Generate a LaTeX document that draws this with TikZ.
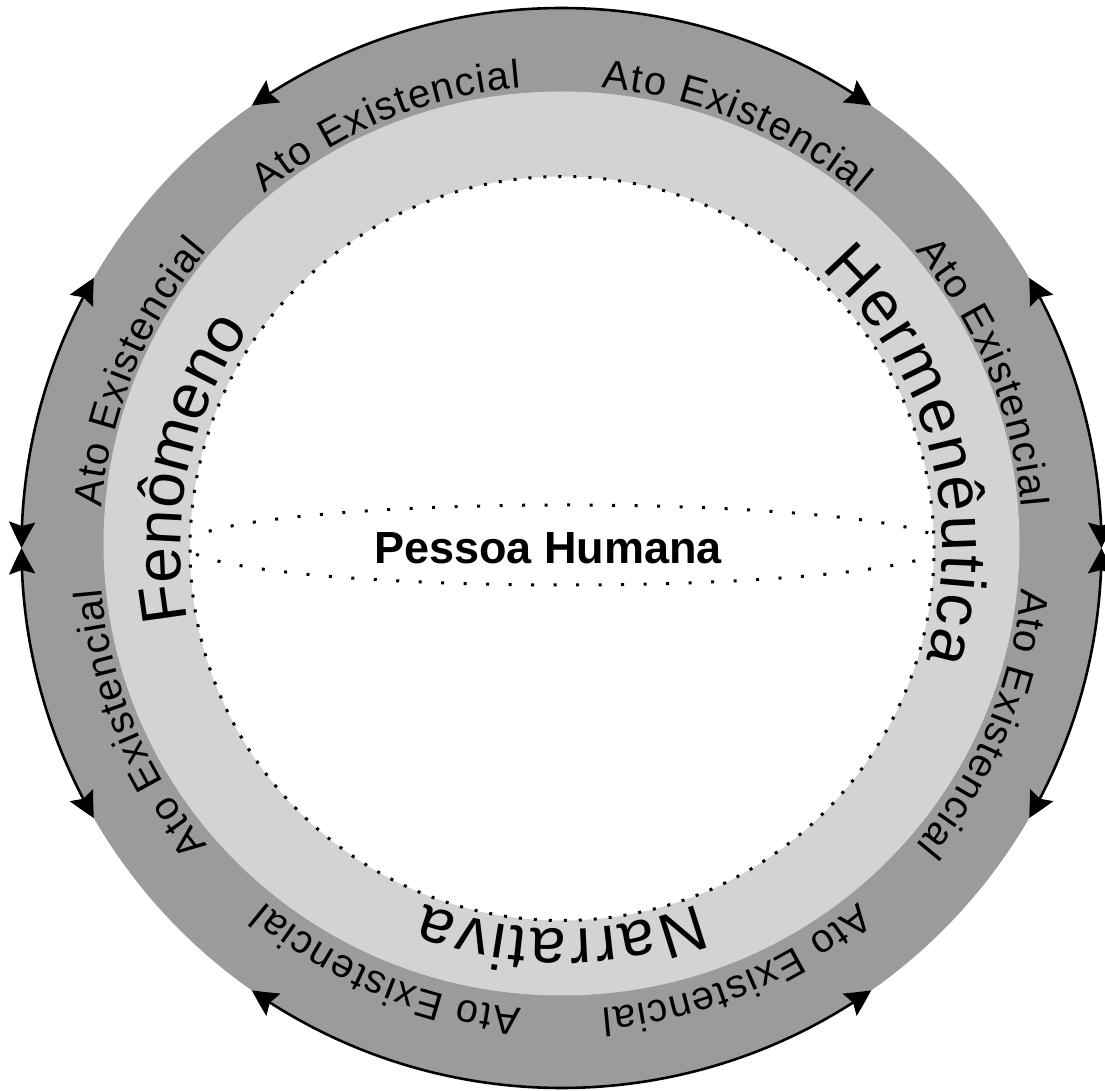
\documentclass[tikz,border=0pt]{standalone}
\usepackage{fontspec}
\setmainfont{Liberation Sans}
\usetikzlibrary{decorations.text,arrows.meta,bending}
\definecolor{ringdark}{RGB}{155,155,155}
\definecolor{ringlight}{RGB}{211,211,211}
\begin{document}
\begin{tikzpicture}[x=1pt,y=1pt,
  arcarrow/.style={line width=2.6pt,
    {Stealth[length=26pt,width=26pt,inset=4pt,bend]}-{Stealth[length=26pt,width=26pt,inset=4pt,bend]}},
  dotline/.style={line width=3pt, dash pattern=on 3pt off 12pt},
  dotellipse/.style={line width=3pt, dash pattern=on 3pt off 19.5pt},
  ringtext/.style={decorate, decoration={text along path, text={|\fontsize{64}{64}\selectfont|#1}, text align={fit to path}}},
  atotext/.style={decorate, decoration={text along path, text={|\fontsize{40}{40}\selectfont|Ato Existencial}, text align={fit to path}}}
]
\useasboundingbox (0,0) rectangle (1105,1090);
\coordinate (O) at (561.5,542);
% rings
\fill[ringdark] (O) circle[radius=540];
\fill[ringlight] (561.5,546.5) ellipse[x radius=458, y radius=452];
\fill[white] (562,541.5) circle[radius=372];
\draw[dotline] (562,541.5) circle[radius=372];
\begin{scope}
  \clip (562,541.5) circle[radius=368];
  \draw[dotellipse] (566,545) ellipse[x radius=380, y radius=40];
\end{scope}
\node[font=\bfseries\fontsize{45}{45}\selectfont, anchor=base, inner sep=0pt] (pessoa) at (548,526) {Pessoa Humana};
% arrows on outer ring
\foreach \a/\b in {55/125,150/180,180/210,235/305,330/360,0/30}
  \draw[arcarrow, shift={(O)}] (\a:540) arc[start angle=\a, end angle=\b, radius=540];
% Ato Existencial labels
\foreach \c in {22.5,67.5,...,337.5} {
  \pgfmathsetmacro{\s}{\c+17.5}
  \pgfmathsetmacro{\e}{\c-17.5}
  \path[atotext, shift={(O)}] (\s:462) arc[start angle=\s, end angle=\e, radius=462];
}
% main ring labels
\path[ringtext=Fenômeno, shift={(O)}] (191:381) arc[start angle=191, end angle=145, radius=381];
\path[ringtext=Hermenêutica, shift={(O)}] (47:381) arc[start angle=47, end angle=-17, radius=381];
\path[ringtext=Narrativa, shift={(O)}] (291:381) arc[start angle=291, end angle=249, radius=381];
\end{tikzpicture}
\end{document}
